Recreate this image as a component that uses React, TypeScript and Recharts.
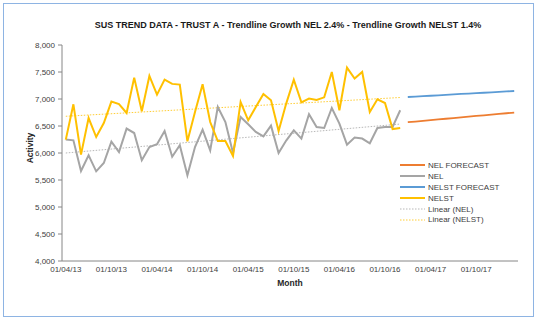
import { LineChart, Line, XAxis, YAxis, Legend, Label } from 'recharts';

const months = [
  '01/04/13', '01/05/13', '01/06/13', '01/07/13', '01/08/13', '01/09/13',
  '01/10/13', '01/11/13', '01/12/13', '01/01/14', '01/02/14', '01/03/14',
  '01/04/14', '01/05/14', '01/06/14', '01/07/14', '01/08/14', '01/09/14',
  '01/10/14', '01/11/14', '01/12/14', '01/01/15', '01/02/15', '01/03/15',
  '01/04/15', '01/05/15', '01/06/15', '01/07/15', '01/08/15', '01/09/15',
  '01/10/15', '01/11/15', '01/12/15', '01/01/16', '01/02/16', '01/03/16',
  '01/04/16', '01/05/16', '01/06/16', '01/07/16', '01/08/16', '01/09/16',
  '01/10/16', '01/11/16', '01/12/16', '01/01/17', '01/02/17', '01/03/17',
  '01/04/17', '01/05/17', '01/06/17', '01/07/17', '01/08/17', '01/09/17',
  '01/10/17', '01/11/17', '01/12/17', '01/01/18', '01/02/18', '01/03/18',
];

// actuals Apr 13 - Dec 16
const nel = [
  6248, 6235, 5667, 5957, 5661, 5815, 6211, 6019, 6452, 6370, 5865, 6111,
  6161, 6407, 5930, 6143, 5587, 6111, 6433, 6050, 6852, 6574, 6000, 6667,
  6531, 6389, 6309, 6507, 6000, 6230, 6420, 6267, 6717, 6481, 6463, 6833,
  6544, 6155, 6285, 6267, 6180, 6463, 6481, 6481, 6791,
];
const nelst = [
  6248, 6902, 5970, 6648, 6296, 6556, 6952, 6907, 6741, 7396, 6772, 7426,
  7081, 7359, 7280, 7267, 6217, 6759, 7272, 6574, 6222, 6222, 5944, 6944,
  6606, 6852, 7093, 6976, 6407, 6915, 7359, 6939, 7007, 6981, 7031, 7500,
  6791, 7581, 7378, 7500, 6759, 6994, 6926, 6444, 6463,
];

// forecasts Jan 17 - Mar 18
const forecastStart = 45;
const nelForecast = [
  6570, 6582, 6596, 6608, 6621, 6634, 6647, 6660, 6673, 6686, 6698, 6711, 6723, 6736, 6748,
];
const nelstForecast = [
  7037, 7045, 7052, 7060, 7068, 7077, 7085, 7094, 7100, 7108, 7116, 7124, 7132, 7140, 7148,
];

// linear trendline end points (first and last actual month)
const trendEnd = 44;
const nelTrend = [6000, 6536];
const nelstTrend = [6680, 7028];

const yTicks = [4000, 4500, 5000, 5500, 6000, 6500, 7000, 7500, 8000];

const trendAt = (t: number[], i: number) => (i === 0 ? t[0] : i === trendEnd ? t[1] : null);

const data = months.map((month, i) => ({
  month,
  nel: nel[i] ?? null,
  nelst: nelst[i] ?? null,
  nelF: i >= forecastStart ? nelForecast[i - forecastStart] : null,
  nelstF: i >= forecastStart ? nelstForecast[i - forecastStart] : null,
  nelT: trendAt(nelTrend, i),
  nelstT: trendAt(nelstTrend, i),
}));

const legendItems = [
  { name: 'NEL FORECAST', color: '#ED7D31', width: 2, dash: undefined },
  { name: 'NEL', color: '#A5A5A5', width: 2, dash: undefined },
  { name: 'NELST FORECAST', color: '#5B9BD5', width: 2, dash: undefined },
  { name: 'NELST', color: '#FFC000', width: 2, dash: undefined },
  { name: 'Linear (NEL)', color: '#A5A5A5', width: 0.8, dash: '1.5 1.5' },
  { name: 'Linear (NELST)', color: '#FFC000', width: 0.8, dash: '1.5 1.5' },
];

const FONT = '"Liberation Sans", Arial, sans-serif';

function LegendBox() {
  return (
    <div style={{ fontFamily: FONT, fontSize: 8, color: '#404040' }}>
      {legendItems.map((it) => (
        <div key={it.name} style={{ display: 'flex', alignItems: 'center', height: 10.9 }}>
          <svg width={28} height={6}>
            <line x1={0} x2={25} y1={3} y2={3} stroke={it.color} strokeWidth={it.width} strokeDasharray={it.dash} />
          </svg>
          <span style={{ whiteSpace: 'nowrap' }}>{it.name}</span>
        </div>
      ))}
    </div>
  );
}

export default function App() {
  const tick = { fontSize: 8, fill: '#404040', fontFamily: FONT };
  return (
    <div style={{ position: 'absolute', left: 0, top: 0, width: 536, height: 321, background: '#fff' }}>
      <div style={{ position: 'absolute', left: 3, top: 3, width: 529, height: 312, border: '1px solid #8EB4E3' }} />
      <div style={{
        position: 'absolute', left: 0, width: 576, top: 19, textAlign: 'center',
        fontFamily: FONT, fontWeight: 'bold', fontSize: 9, lineHeight: '12px', color: '#1a1a1a',
      }}>
        SUS TREND DATA - TRUST A - Trendline Growth NEL 2.4% - Trendline Growth NELST 1.4%
      </div>
      <div style={{ position: 'absolute', left: 0, top: 0 }}>
        <LineChart width={536} height={321} data={data} margin={{ top: 45, right: 18, bottom: 30, left: 0 }}>
          <XAxis
            dataKey="month"
            interval={5}
            tick={tick}
            tickLine={false}
            tickSize={0}
            tickMargin={5}
            height={30}
            padding={{ left: 3.8, right: 3.8 }}
            axisLine={{ stroke: '#868686' }}
          >
            <Label value="Month" position="insideBottom" offset={5}
              style={{ fontSize: 8.5, fontWeight: 'bold', fill: '#262626', fontFamily: FONT }} />
          </XAxis>
          <XAxis xAxisId="top" orientation="top" dataKey="month" height={0} tick={false} tickLine={false}
            axisLine={{ stroke: '#8EB4E3' }} />
          <YAxis
            domain={[4000, 8000]}
            ticks={yTicks}
            tick={tick}
            tickSize={4}
            tickMargin={3}
            width={62}
            tickFormatter={(v: number) => v.toLocaleString('en-US')}
            axisLine={{ stroke: '#868686' }}
            tickLine={{ stroke: '#868686' }}
          >
            <Label content={() => (
              <text x={30} y={148} transform="rotate(-90 30 148)" textAnchor="middle" dominantBaseline="central"
                style={{ fontSize: 8.5, fontWeight: 'bold', fill: '#262626', fontFamily: FONT }}>Activity</text>
            )} />
          </YAxis>
          <YAxis yAxisId="right" orientation="right" domain={[4000, 8000]} width={0} tick={false} tickLine={false}
            axisLine={{ stroke: '#8EB4E3' }} />
          <Legend layout="horizontal" verticalAlign="middle" content={() => <LegendBox />}
            wrapperStyle={{ left: 400, top: 160, width: 120 }} />
          <Line dataKey="nelT" stroke="#A5A5A5" strokeWidth={0.8} strokeDasharray="1.5 1.5" dot={false} connectNulls isAnimationActive={false} />
          <Line dataKey="nelstT" stroke="#FFC000" strokeWidth={0.8} strokeDasharray="1.5 1.5" dot={false} connectNulls isAnimationActive={false} />
          <Line dataKey="nel" stroke="#A5A5A5" strokeWidth={2} dot={false} isAnimationActive={false} />
          <Line dataKey="nelst" stroke="#FFC000" strokeWidth={2} dot={false} isAnimationActive={false} />
          <Line dataKey="nelF" stroke="#ED7D31" strokeWidth={1.8} dot={false} isAnimationActive={false} />
          <Line dataKey="nelstF" stroke="#5B9BD5" strokeWidth={1.8} dot={false} isAnimationActive={false} />
        </LineChart>
      </div>
    </div>
  );
}
